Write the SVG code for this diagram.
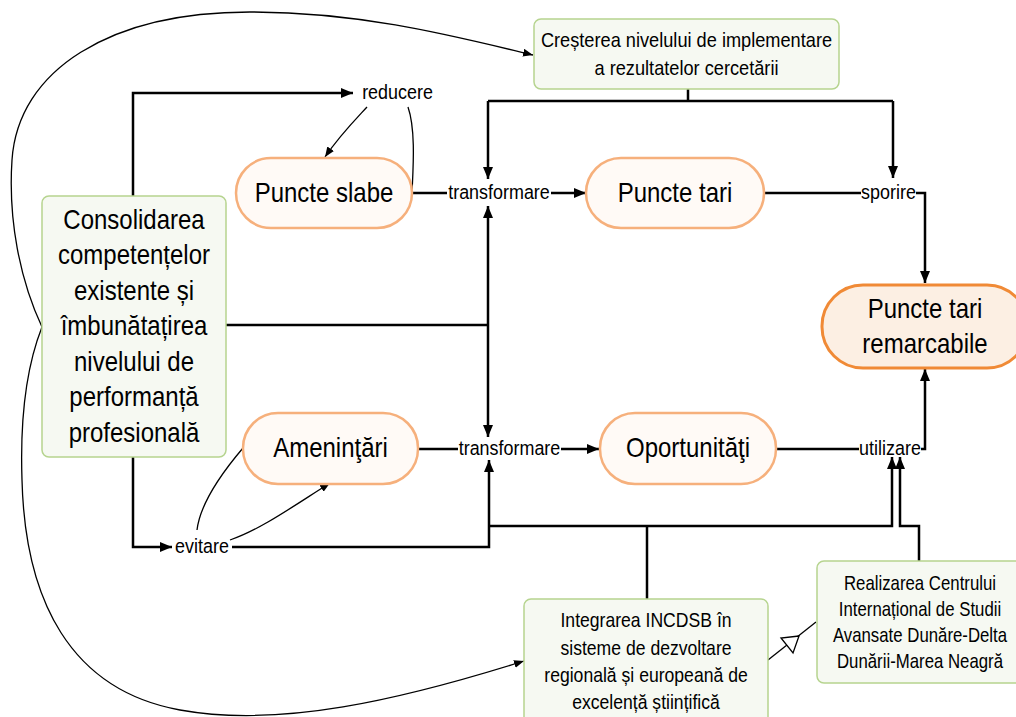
<svg xmlns="http://www.w3.org/2000/svg" width="1016" height="717" viewBox="0 0 1016 717">
<style>
text{font-family:"Liberation Sans",Arial,sans-serif;fill:#000;text-anchor:middle}
.pill{fill:#fffaf6;stroke:#f6b07c;stroke-width:2.5}
.pill2{fill:#fcefe3;stroke:#f08a36;stroke-width:3}
.gbox{fill:#f6f9f2;stroke:#b6d48f;stroke-width:1.5}
.big{font-size:28px}
.mid{font-size:20px}
.lbl{font-size:19.5px}
.thick{fill:none;stroke:#000;stroke-width:2.5}
.thin{fill:none;stroke:#000;stroke-width:1.3}
</style>
<defs>
<marker id="ah" viewBox="0 0 12 10" refX="12" refY="5" markerWidth="12" markerHeight="10" orient="auto" markerUnits="userSpaceOnUse"><path d="M0,0 L12,5 L0,10 z" fill="#000"/></marker>
<marker id="ahs" viewBox="0 0 10 8" refX="10" refY="4" markerWidth="10" markerHeight="8" orient="auto" markerUnits="userSpaceOnUse"><path d="M0,0 L10,4 L0,8 z" fill="#000"/></marker>
</defs>

<g id="connectors">
<path class="thick" d="M133,196 V93 H353" marker-end="url(#ah)"/>
<path class="thin" d="M367,107 C355,120 340,135 325,157" marker-end="url(#ahs)"/>
<path class="thin" d="M408,107 C416,130 413,170 412,193"/>
<path class="thick" d="M412,193 H447"/>
<path class="thick" d="M551,193 H586" marker-end="url(#ah)"/>
<path class="thick" d="M688,89 V101"/>
<path class="thick" d="M488,101 H893"/>
<path class="thick" d="M488,101 V179" marker-end="url(#ah)"/>
<path class="thick" d="M893,101 V178" marker-end="url(#ah)"/>
<path class="thick" d="M226,325 H488"/>
<path class="thick" d="M488,325 V206" marker-end="url(#ah)"/>
<path class="thick" d="M488,325 V437" marker-end="url(#ah)"/>
<path class="thick" d="M764,193 H861"/>
<path class="thick" d="M916,193 H925 V283" marker-end="url(#ah)"/>
<path class="thick" d="M418,449 H458"/>
<path class="thick" d="M561,449 H599" marker-end="url(#ah)"/>
<path class="thick" d="M776,449 H859"/>
<path class="thick" d="M921,449 H925 V369" marker-end="url(#ah)"/>
<path class="thick" d="M133,457 V547 H172" marker-end="url(#ah)"/>
<path class="thick" d="M232,547 H489 V460" marker-end="url(#ah)"/>
<path class="thin" d="M197,530 C200,505 220,475 243,448"/>
<path class="thin" d="M230,540 C260,530 295,505 330,483" marker-end="url(#ahs)"/>
<path class="thick" d="M647,599 V526"/>
<path class="thick" d="M489,526 H892 V457" marker-end="url(#ah)"/>
<path class="thick" d="M919,561 V526 H900 V457" marker-end="url(#ah)"/>
<path class="thin" d="M768,660 L816,622"/>
<polygon points="799,636 781,638 793,653" fill="#fff" stroke="#000" stroke-width="1.3"/>
<path class="thin" d="M42,327 C20,280 8,220 12,160 C18,70 110,12 250,12 C360,12 450,35 533,55" marker-end="url(#ahs)"/>
<path class="thin" d="M42,327 C25,370 20,420 22,480 C25,600 70,690 180,710 C280,728 400,700 524,661" marker-end="url(#ahs)"/>
</g>

<g id="labels">
<text class="lbl" transform="translate(397.5,99) scale(0.92,1)">reducere</text>
<text class="lbl" transform="translate(499,199) scale(0.92,1)">transformare</text>
<text class="lbl" transform="translate(888.5,199) scale(0.92,1)">sporire</text>
<text class="lbl" transform="translate(509.5,455) scale(0.92,1)">transformare</text>
<text class="lbl" transform="translate(890,455) scale(0.92,1)">utilizare</text>
<text class="lbl" transform="translate(202,553) scale(0.92,1)">evitare</text>
</g>

<g id="node-crestere">
<rect class="gbox" x="534" y="19" width="305" height="70" rx="7"/>
<text class="mid" transform="translate(686.5,47) scale(0.91,1)">Creșterea nivelului de implementare</text>
<text class="mid" transform="translate(686.5,75) scale(0.91,1)">a rezultatelor cercetării</text>
</g>

<g id="node-consolidarea">
<rect class="gbox" x="42" y="196" width="184" height="261" rx="7"/>
<g class="big" transform="translate(134,0) scale(0.857,1)">
<text x="0" y="229">Consolidarea</text>
<text x="0" y="264.5">competențelor</text>
<text x="0" y="300">existente și</text>
<text x="0" y="335.5">îmbunătațirea</text>
<text x="0" y="371">nivelului de</text>
<text x="0" y="406.5">performanță</text>
<text x="0" y="442">profesională</text>
</g>
</g>

<g id="node-slabe">
<rect class="pill" x="236" y="158" width="176" height="70" rx="35"/>
<text class="big" transform="translate(324,202) scale(0.857,1)">Puncte slabe</text>
</g>

<g id="node-tari">
<rect class="pill" x="586" y="158" width="178" height="70" rx="35"/>
<text class="big" transform="translate(675,202) scale(0.857,1)">Puncte tari</text>
</g>

<g id="node-remarcabile">
<rect class="pill2" x="822" y="285" width="206" height="83" rx="41"/>
<text class="big" transform="translate(925,318) scale(0.857,1)">Puncte tari</text>
<text class="big" transform="translate(925,353) scale(0.857,1)">remarcabile</text>
</g>

<g id="node-amenintari">
<rect class="pill" x="243" y="413" width="175" height="71" rx="35"/>
<text class="big" transform="translate(330.5,457) scale(0.857,1)">Ameninţări</text>
</g>

<g id="node-oportunitati">
<rect class="pill" x="600" y="413" width="176" height="71" rx="35"/>
<text class="big" transform="translate(688,457) scale(0.857,1)">Oportunităţi</text>
</g>

<g id="node-integrarea">
<rect class="gbox" x="524" y="599" width="244" height="130" rx="7"/>
<g class="mid" transform="translate(646,0) scale(0.88,1)">
<text x="0" y="627">Integrarea INCDSB în</text>
<text x="0" y="655">sisteme de dezvoltare</text>
<text x="0" y="682">regională și europeană de</text>
<text x="0" y="709">excelență științifică</text>
</g>
</g>

<g id="node-realizarea">
<rect class="gbox" x="817" y="561" width="210" height="122" rx="7"/>
<g class="mid" transform="translate(920,0) scale(0.84,1)">
<text x="0" y="590">Realizarea Centrului</text>
<text x="0" y="616">Internațional de Studii</text>
<text x="0" y="642">Avansate Dunăre-Delta</text>
<text x="0" y="668">Dunării-Marea Neagră</text>
</g>
</g>
</svg>
